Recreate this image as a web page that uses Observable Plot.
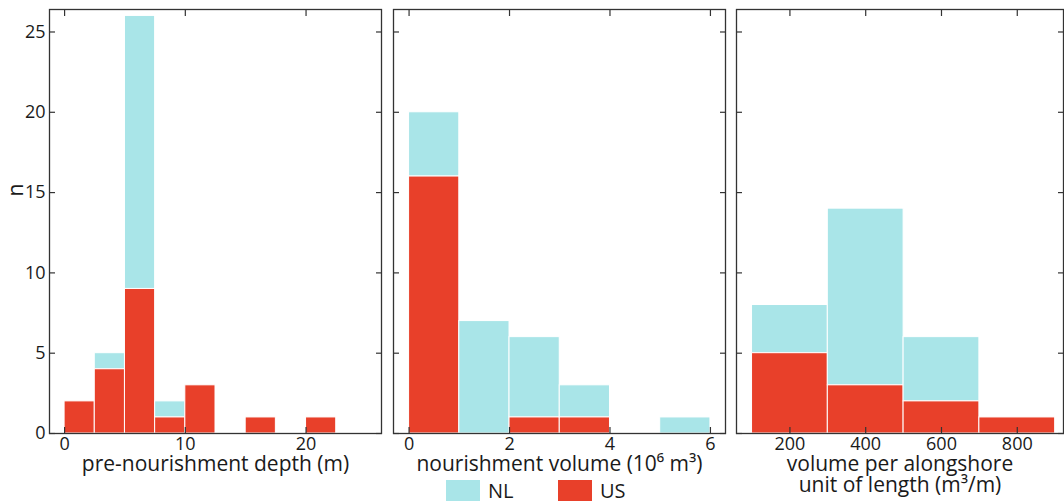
<!DOCTYPE html>
<html><head><meta charset="utf-8">
<script src="https://cdn.jsdelivr.net/npm/d3@7"></script>
<script src="https://cdn.jsdelivr.net/npm/@observablehq/plot@0.6"></script>
<style>
body{margin:0;background:#fff;font-family:"Open Sans",sans-serif;color:#1a1a1a;}
#wrap{position:relative;width:1064px;height:502px;overflow:hidden;}
.panel{position:absolute;top:0;}
.leg{position:absolute;top:480px;height:21px;display:flex;align-items:center;font-size:20px;}
.leg span{line-height:1;display:block;}
.sw{width:34px;height:21px;margin-right:8px;}
</style></head>
<body><div id="wrap"></div>
<script>
// ---- data ----
const seriesNames = ["NL", "US"];
const seriesColors = ["#a9e5e8", "#e8402a"];
const yTicks = [0, 5, 10, 15, 20, 25];

const depthBins = [0, 2.5, 5, 7.5, 10, 12.5, 15, 17.5, 20, 22.5];
const depthUS = [2, 4, 9, 1, 3, 0, 1, 0, 1];
const depthNL = [0, 1, 17, 1, 0, 0, 0, 0, 0];
const depthTicks = [0, 10, 20];

const volumeBins = [0, 1, 2, 3, 4, 5, 6];
const volumeUS = [16, 0, 1, 1, 0, 0];
const volumeNL = [4, 7, 5, 2, 0, 1];
const volumeTicks = [0, 2, 4, 6];

const perLengthBins = [100, 300, 500, 700, 900];
const perLengthUS = [5, 3, 2, 1];
const perLengthNL = [3, 11, 4, 0];
const perLengthTicks = [200, 400, 600, 800];

const labels = ["pre-nourishment depth (m)", "nourishment volume (10⁶ m³)", "volume per alongshore\nunit of length (m³/m)"];

// ---- build ----
function rows(bins, us, nl) {
  const out = [];
  for (let i = 0; i < us.length; i++) {
    if (nl[i] > 0) out.push({x1: bins[i], x2: bins[i+1], y1: us[i], y2: us[i] + nl[i], s: "NL"});
    if (us[i] > 0) out.push({x1: bins[i], x2: bins[i+1], y1: 0, y2: us[i], s: "US"});
  }
  return out;
}

function panel({data, xDomain, xTicks, label, left, width, marginLeft, marginRight, showY}) {
  const marks = [
    Plot.rect(data, {x1: "x1", x2: "x2", y1: "y1", y2: "y2", fill: "s", stroke: "white", strokeWidth: 1}),
    Plot.axisX(xTicks, {anchor: "bottom", tickSize: -6, text: null, stroke: "#333", strokeWidth: 1.2}),
    Plot.axisX(xTicks, {anchor: "top", tickSize: -6, text: null, stroke: "#333", strokeWidth: 1.2}),
    Plot.axisX(xTicks, {anchor: "bottom", tickSize: 0, tickPadding: 4, label: null}),
    Plot.axisY(yTicks, {anchor: "left", tickSize: -6, text: null, stroke: "#333", strokeWidth: 1.2}),
    Plot.axisY(yTicks, {anchor: "right", tickSize: -6, text: null, stroke: "#333", strokeWidth: 1.2}),
    Plot.frame({stroke: "#333", strokeWidth: 1.3}),
    Plot.text([label], {frameAnchor: "bottom", lineAnchor: "top", dy: 23, fontSize: 21, lineHeight: 1.0, fill: "#1a1a1a"})
  ];
  if (showY) {
    marks.push(Plot.axisY(yTicks, {anchor: "left", tickSize: 0, tickPadding: 4, label: null}));
    marks.push(Plot.text(["n"], {frameAnchor: "left", dx: -33, dy: -25, rotate: -90, fontSize: 21, fill: "#1a1a1a"}));
  }
  const svg = Plot.plot({
    width, height: 480,
    marginLeft, marginRight, marginTop: 9, marginBottom: 47,
    style: {fontFamily: "'Open Sans', sans-serif", fontSize: "18px", color: "#1a1a1a", background: "transparent", overflow: "visible"},
    x: {domain: xDomain},
    y: {domain: [0, 26.4]},
    color: {domain: seriesNames, range: seriesColors},
    marks
  });
  svg.classList.add("panel");
  svg.style.left = left + "px";
  svg.style.position = "absolute";
  svg.style.top = "0px";
  document.getElementById("wrap").appendChild(svg);
}

panel({data: rows(depthBins, depthUS, depthNL), xDomain: [-1.25, 26.25], xTicks: depthTicks, label: labels[0], left: 0, width: 390, marginLeft: 49, marginRight: 9, showY: true});
panel({data: rows(volumeBins, volumeUS, volumeNL), xDomain: [-0.31, 6.3], xTicks: volumeTicks, label: labels[1], left: 385, width: 345, marginLeft: 8, marginRight: 5, showY: false});
panel({data: rows(perLengthBins, perLengthUS, perLengthNL), xDomain: [59, 922], xTicks: perLengthTicks, label: labels[2], left: 728, width: 336, marginLeft: 8, marginRight: 1, showY: false});

// legend
const legLefts = [446, 558];
seriesNames.forEach((n, i) => {
  const d = document.createElement("div");
  d.className = "leg";
  d.style.left = legLefts[i] + "px";
  d.innerHTML = `<div class="sw" style="background:${seriesColors[i]}"></div><span>${n}</span>`;
  document.getElementById("wrap").appendChild(d);
});
</script>
</body></html>
